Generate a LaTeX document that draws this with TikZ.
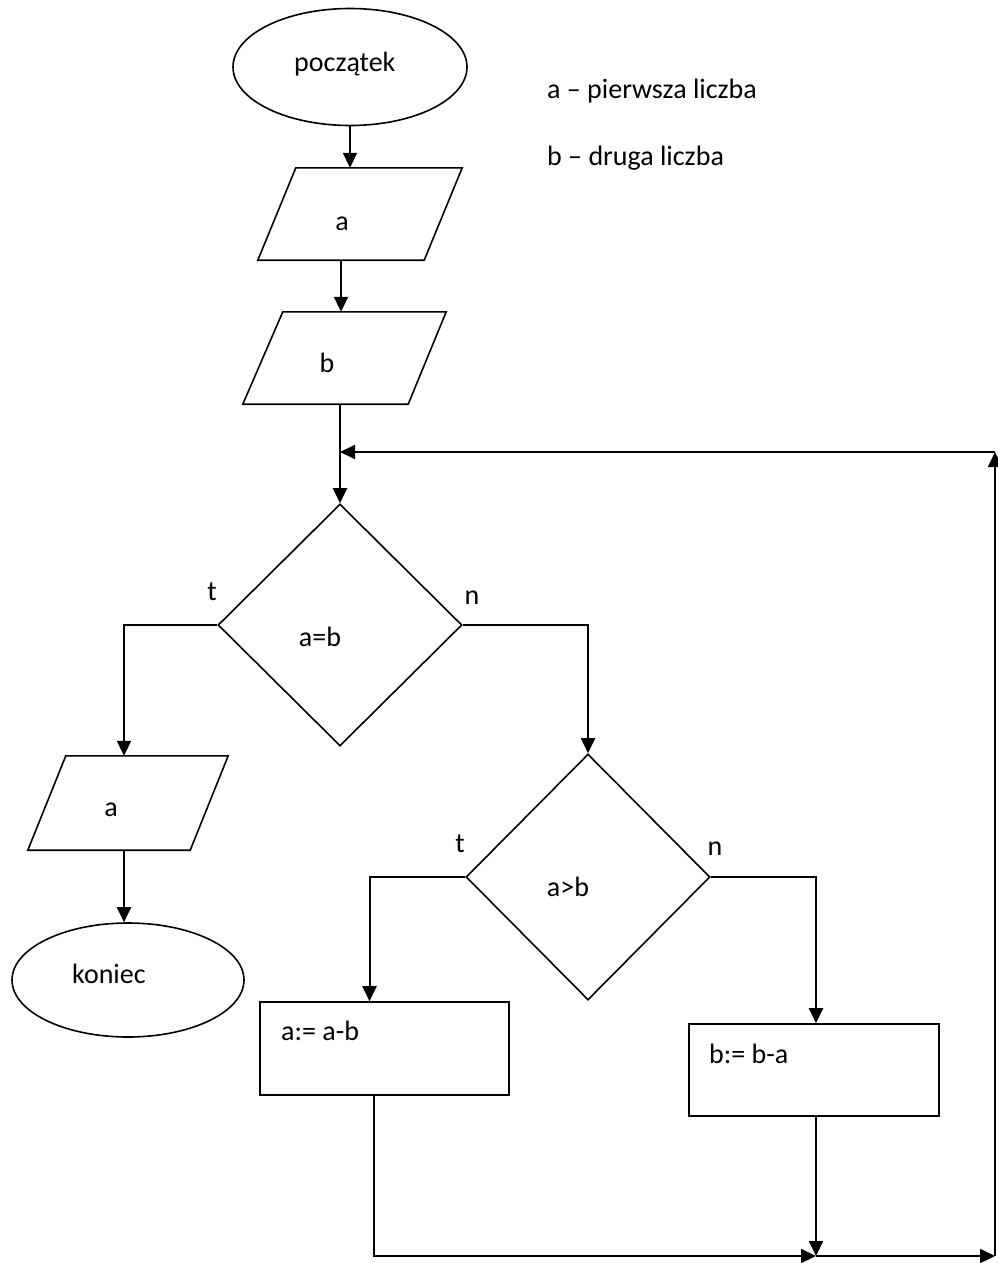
\documentclass[tikz,border=0pt]{standalone}
\usepackage{fontspec}
\setmainfont{Carlito}
\usetikzlibrary{shapes.geometric,arrows.meta,calc}
\begin{document}
\begin{tikzpicture}[x=1pt,y=-1pt,
  txt/.style={font=\fontsize{28}{34}\selectfont,inner sep=0pt},
  arr/.style={line width=2pt,-{Triangle[length=15pt,width=14pt]}},
  shp/.style={draw,line width=1.6pt,inner sep=0pt},
  outline/.style={line width=1.6pt,line join=miter},
  oval/.style={shp,ellipse},
  pbox/.style={inner sep=0pt,rectangle},
  dec/.style={shp,diamond},
  procbox/.style={shp,rectangle}]
\useasboundingbox (0,0) rectangle (998,1263);
% shapes
\node[oval,minimum width=234pt,minimum height=117pt] (start) at (350,67) {};
\node[pbox,minimum width=204pt,minimum height=92pt] (a1) at (360,214) {};
\draw[outline] (a1.south west) -- ([xshift=38pt]a1.north west) -- (a1.north east) -- ([xshift=-38pt]a1.south east) -- cycle;
\node[pbox,minimum width=203pt,minimum height=92pt] (b1) at (344.5,358) {};
\draw[outline] (b1.south west) -- ([xshift=40pt]b1.north west) -- (b1.north east) -- ([xshift=-38pt]b1.south east) -- cycle;
\node[dec,minimum width=244pt,minimum height=242pt] (d1) at (340,625) {};
\node[pbox,minimum width=200pt,minimum height=94pt] (a2) at (128,803) {};
\draw[outline] (a2.south west) -- ([xshift=38pt]a2.north west) -- (a2.north east) -- ([xshift=-38pt]a2.south east) -- cycle;
\node[oval,minimum width=232pt,minimum height=114pt] (end) at (128,980) {};
\node[dec,minimum width=244pt,minimum height=246pt] (d2) at (588,877) {};
\node[procbox,minimum width=249pt,minimum height=93pt] (box1) at (384.5,1048.5) {};
\node[procbox,minimum width=250pt,minimum height=92pt] (box2) at (814,1070) {};
% texts
\node[txt,anchor=base west] (tstart) at (294,71) {początek};
\node[txt,anchor=base west] (leg1) at (547,98) {a – pierwsza liczba};
\node[txt,anchor=base west] (leg2) at (547,165) {b – druga liczba};
\node[txt,anchor=base] (ta1) at (342,230) {a};
\node[txt,anchor=base] (tb1) at (327,372) {b};
\node[txt,anchor=base] (td1) at (320,646) {a=b};
\node[txt,anchor=base] (ta2) at (111,816) {a};
\node[txt,anchor=base west] (tend) at (72,983) {koniec};
\node[txt,anchor=base] (td2) at (568,896) {a>b};
\node[txt,anchor=base west] (tbox1) at (281,1040) {a:= a-b};
\node[txt,anchor=base west] (tbox2) at (709,1063) {b:= b-a};
\node[txt,anchor=base] (lt1) at (212,600) {t};
\node[txt,anchor=base] (ln1) at (472,604) {n};
\node[txt,anchor=base] (lt2) at (460,852) {t};
\node[txt,anchor=base] (ln2) at (715,855) {n};
% helper points
\coordinate (p1) at ([xshift=-19pt]a1.south);
\coordinate (j) at (340,452);
\coordinate (c2) at (995,452);
\coordinate (c1) at (995,1256);
\coordinate (m) at (816,1256);
% connectors
\draw[arr] (start.south) -- (start.south |- a1.north);
\draw[arr] (p1) -- (p1 |- b1.north);
\draw[arr] (b1.south -| d1.north) -- (d1.north);
\draw[arr] (d1.west) -| ([xshift=-4pt]a2.north);
\draw[arr] ([xshift=-4pt]a2.south) -- ([xshift=-4pt]a2.south |- end.north);
\draw[arr] (d1.east) -| (d2.north);
\draw[arr] (d2.west) -| ([xshift=-15pt]box1.north);
\draw[arr] (d2.east) -| (box2.north -| m);
\draw[arr] ([xshift=-11pt]box1.south) |- (m);
\draw[arr] (box2.south -| m) -- (m);
\draw[arr] (m) -- (c1);
\draw[arr] (c1) -- (c2);
\draw[arr] (c2) -- (j);
\end{tikzpicture}
\end{document}
